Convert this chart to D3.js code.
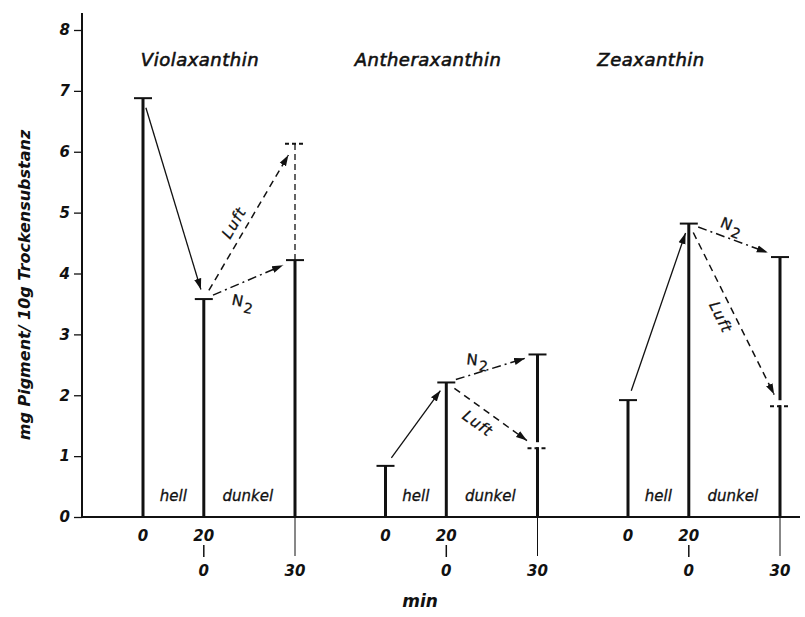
<!DOCTYPE html>
<html>
<head>
<meta charset="utf-8">
<script src="https://cdn.jsdelivr.net/npm/d3@7"></script>
<style>
  html, body { margin: 0; padding: 0; background: #fff; }
  svg text { font-family: "DejaVu Sans", sans-serif; font-style: italic; fill: #111; }
</style>
</head>
<body>
<svg id="chart" width="805" height="617"></svg>
<script>
// Pigment contents (mg / 10 g dry matter): 20 min light, then 30 min dark
const pigments = ["Violaxanthin", "Antheraxanthin", "Zeaxanthin"];
const timePoints = [0, 20, 50];            // minutes since start
const valuesStart = [6.88, 0.84, 1.92];    // 0 min
const valuesAfterLight = [3.58, 2.21, 4.82]; // 20 min light
const valuesDarkN2 = [4.22, 2.67, 4.27];   // +30 min dark under N2
const valuesDarkLuft = [6.13, 1.13, 1.82]; // +30 min dark in air
const yTicks = [0, 1, 2, 3, 4, 5, 6, 7, 8];
const phaseLabels = ["hell", "dunkel"];
const tickRow1 = ["0", "20"];
const tickRow2 = ["0", "30"];

const svg = d3.select("#chart");
const y = d3.scaleLinear().domain([0, 8]).range([517, 30]);
const xGroup = d3.scalePoint().domain(pigments).range([143, 628]);
const xTime = d3.scaleLinear().domain([0, 50]).range([0, 152]);
const X = (p, t) => xGroup(p) + xTime(t);

// Arrowhead
const defs = svg.append("defs");
defs.append("marker")
  .attr("id", "head").attr("viewBox", "-11 -5 11 10")
  .attr("refX", 0).attr("refY", 0)
  .attr("markerUnits", "userSpaceOnUse")
  .attr("markerWidth", 11).attr("markerHeight", 10)
  .attr("orient", "auto")
  .append("path").attr("d", "M0,0 L-11,-3.6 L-11,3.6 Z").attr("fill", "#111");

// Y axis
const yAxis = d3.axisLeft(y).tickValues(yTicks).tickSize(8).tickPadding(4);
const gy = svg.append("g").attr("transform", "translate(82,0)").call(yAxis);
gy.select(".domain").remove();
gy.selectAll(".tick line").attr("stroke", "#111").attr("stroke-width", 1.3);
gy.selectAll(".tick text").attr("font-size", 15).attr("font-weight", "bold")
  .style("font-family", "DejaVu Sans").style("font-style", "italic").attr("fill", "#111");
svg.append("line").attr("x1", 82).attr("x2", 82).attr("y1", 13).attr("y2", y(0))
  .attr("stroke", "#111").attr("stroke-width", 2);

// X axis baseline
svg.append("line").attr("x1", 82).attr("x2", 800).attr("y1", y(0)).attr("y2", y(0))
  .attr("stroke", "#111").attr("stroke-width", 2);

svg.append("text").attr("transform", "translate(30,285) rotate(-90)")
  .attr("text-anchor", "middle").attr("font-size", 16).attr("font-weight", "bold")
  .text("mg Pigment/ 10g  Trockensubstanz");

svg.append("text").attr("x", 420).attr("y", 607).attr("text-anchor", "middle")
  .attr("font-size", 17).attr("font-weight", "bold").text("min");

// Title centres for each group
const titleX = [200, 428, 651];

pigments.forEach((p, i) => {
  const g = svg.append("g");
  const v0 = valuesStart[i], v1 = valuesAfterLight[i], vN = valuesDarkN2[i], vL = valuesDarkLuft[i];
  const [t0, t1, t2] = timePoints;

  g.append("text").attr("x", titleX[i]).attr("y", 66).attr("text-anchor", "middle")
    .attr("font-size", 18).attr("letter-spacing", 0.5)
    .attr("stroke", "#111").attr("stroke-width", 0.6).text(p);

  // Solid bars with caps
  [[t0, v0], [t1, v1], [t2, vN]].forEach(([t, v]) => {
    g.append("line").attr("x1", X(p, t)).attr("x2", X(p, t)).attr("y1", y(0)).attr("y2", y(v))
      .attr("stroke", "#111").attr("stroke-width", 3);
    g.append("line").attr("x1", X(p, t) - 9).attr("x2", X(p, t) + 9).attr("y1", y(v)).attr("y2", y(v))
      .attr("stroke", "#111").attr("stroke-width", 2);
  });

  // Air value: dashed extension above the N2 bar, or a dashed mark inside it
  const xe = X(p, t2);
  if (vL > vN) {
    g.append("line").attr("x1", xe).attr("x2", xe).attr("y1", y(vN)).attr("y2", y(vL))
      .attr("stroke", "#111").attr("stroke-width", 1.3).attr("stroke-dasharray", "6,4");
  } else {
    g.append("line").attr("x1", xe).attr("x2", xe).attr("y1", y(vL) - 6).attr("y2", y(vL) - 1)
      .attr("stroke", "#fff").attr("stroke-width", 4);
  }
  g.append("line").attr("x1", xe - 10).attr("x2", xe + 10).attr("y1", y(vL)).attr("y2", y(vL))
    .attr("stroke", "#111").attr("stroke-width", 2).attr("stroke-dasharray", "4,3");

  // X tick labels
  g.append("text").attr("x", X(p, t0)).attr("y", 541).attr("text-anchor", "middle")
    .attr("font-size", 15).attr("font-weight", "bold").text(tickRow1[0]);
  g.append("text").attr("x", X(p, t1)).attr("y", 541).attr("text-anchor", "middle")
    .attr("font-size", 15).attr("font-weight", "bold").text(tickRow1[1]);
  g.append("line").attr("x1", X(p, t1)).attr("x2", X(p, t1)).attr("y1", 545).attr("y2", 557)
    .attr("stroke", "#111").attr("stroke-width", 1.5);
  g.append("text").attr("x", X(p, t1)).attr("y", 576).attr("text-anchor", "middle")
    .attr("font-size", 15).attr("font-weight", "bold").text(tickRow2[0]);
  g.append("line").attr("x1", xe).attr("x2", xe).attr("y1", y(0)).attr("y2", 556)
    .attr("stroke", "#111").attr("stroke-width", 1);
  g.append("text").attr("x", xe).attr("y", 576).attr("text-anchor", "middle")
    .attr("font-size", 15).attr("font-weight", "bold").text(tickRow2[1]);

  // Phase labels
  g.append("text").attr("x", X(p, (t0 + t1) / 2)).attr("y", 501).attr("text-anchor", "middle")
    .attr("font-size", 15).attr("stroke", "#111").attr("stroke-width", 0.3).text(phaseLabels[0]);
  g.append("text").attr("x", X(p, 34.5)).attr("y", 501).attr("text-anchor", "middle")
    .attr("font-size", 15).attr("stroke", "#111").attr("stroke-width", 0.3).text(phaseLabels[1]);
});

// Transitions between time points
const arrowStyles = { light: null, luft: "7,5", n2: "9,4,2,4" };
const arrows = [];
pigments.forEach((p, i) => {
  arrows.push({ p, i, kind: "light", a: [timePoints[0], valuesStart[i]], b: [timePoints[1], valuesAfterLight[i]] });
  arrows.push({ p, i, kind: "luft", a: [timePoints[1], valuesAfterLight[i]], b: [timePoints[2], valuesDarkLuft[i]] });
  arrows.push({ p, i, kind: "n2", a: [timePoints[1], valuesAfterLight[i]], b: [timePoints[2], valuesDarkN2[i]] });
});

// Label placement along each arrow: fraction, perpendicular offset, rotation (null = along line)
const labelLayout = {
  "Violaxanthin-luft": { t: 0.45, off: 12.5, rot: null },
  "Violaxanthin-n2": { t: 0.35, off: -18, rot: 12 },
  "Antheraxanthin-luft": { t: 0.44, off: -15, rot: null },
  "Antheraxanthin-n2": { t: 0.38, off: 12, rot: 6 },
  "Zeaxanthin-luft": { t: 0.48, off: -13.5, rot: null },
  "Zeaxanthin-n2": { t: 0.42, off: 12.5, rot: 22 }
};

arrows.forEach(d => {
  const x1 = X(d.p, d.a[0]), y1 = y(d.a[1]), x2 = X(d.p, d.b[0]), y2 = y(d.b[1]);
  const dx = x2 - x1, dy = y2 - y1, len = Math.hypot(dx, dy);
  const ux = dx / len, uy = dy / len;
  const s0 = 10, s1 = d.kind === "light" ? 10 : 13;
  const line = svg.append("line")
    .attr("x1", x1 + ux * s0).attr("y1", y1 + uy * s0)
    .attr("x2", x2 - ux * s1).attr("y2", y2 - uy * s1)
    .attr("stroke", "#111").attr("stroke-width", d.kind === "light" ? 1.3 : 1.5)
    .attr("marker-end", "url(#head)");
  if (arrowStyles[d.kind]) line.attr("stroke-dasharray", arrowStyles[d.kind]);

  const lay = labelLayout[d.p + "-" + d.kind];
  if (!lay) return;
  const nx = uy, ny = -ux;
  const cx = x1 + dx * lay.t + nx * lay.off, cy = y1 + dy * lay.t + ny * lay.off;
  const ang = lay.rot === null ? Math.atan2(dy, dx) * 180 / Math.PI : lay.rot;
  const t = svg.append("text").attr("transform", `translate(${cx},${cy}) rotate(${ang})`)
    .attr("text-anchor", "middle").attr("dominant-baseline", "central").attr("font-size", 15)
    .attr("stroke", "#111").attr("stroke-width", 0.3);
  if (d.kind === "luft") {
    t.attr("letter-spacing", 1).text("Luft");
  } else {
    t.style("font-style", "normal");
    t.append("tspan").text("N");
    t.append("tspan").attr("dx", 2).attr("dy", 5).attr("font-size", 14).text("2");
  }
});
</script>
</body>
</html>
